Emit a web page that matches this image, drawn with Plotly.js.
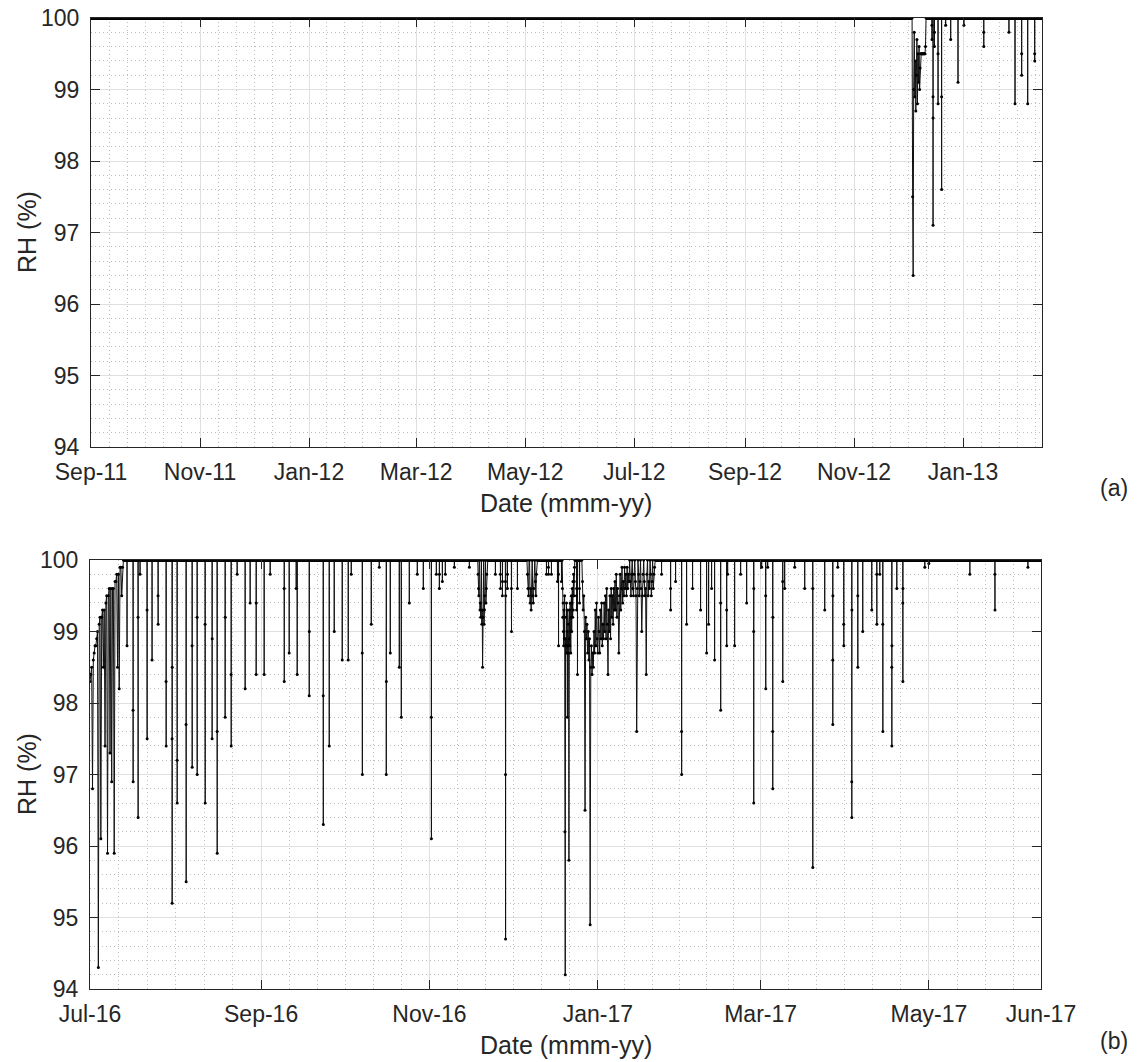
<!DOCTYPE html>
<html>
<head>
<meta charset="utf-8">
<script src="https://cdn.plot.ly/plotly-3.0.1.min.js"></script>
<style>html,body{margin:0;padding:0;background:#fff}#chart{width:1141px;height:1062px}</style>
</head>
<body>
<div id="chart"></div>
<script>
// ---------------- DATA ----------------
// Panel (a): days counted from startA
const startA = '2011-09-01';
const endDayA = 532.2;
const dipDayA = [470.6, 471.2, 472.0, 474.0, 476.0, 478.3, 481.1, 485.2, 488.5, 499.6, 513.7, 517.1, 520.8, 524.2, 528.1];
const dipValA = [[99.9,99.7],[98.9,97.1,98.6],[99.6,99.8],[99.5,98.8],[98.9,97.6],[99.9],[99.7],[99.1],[99.9],[99.8,99.6],[99.8],[98.8],[99.5,99.2],[98.8],[99.5,99.4]];
const clusterDayA = [459.8];
const clusterSpanA = [7.2];
const clusterValA = [[97.5,96.4,99.0,99.8,98.9,99.4,98.7,99.2,99.7,98.8,99.5,99.1,99.6,99.0,99.3,99.5,99.5,99.5,99.5,99.5,99.5,99.5,99.5,99.5,99.6]];
const tickDateA = ['2011-09-01','2011-11-01','2012-01-01','2012-03-01','2012-05-01','2012-07-01','2012-09-01','2012-11-01','2013-01-01'];
const tickTextA = ['Sep-11','Nov-11','Jan-12','Mar-12','May-12','Jul-12','Sep-12','Nov-12','Jan-13'];

// Panel (b): days counted from startB
const startB = '2016-07-01';
const endDayB = 344.6;
const dipDayB = [13.42,15.60,17.41,18.14,20.67,22.49,24.66,27.57,29.74,31.56,34.82,37.00,38.81,41.71,44.25,46.06,48.97,51.14,53.32,56.22,58.03,60.21,63.11,65.29,70.37,72.18,74.72,75.08,79.44,84.51,86.69,88.50,91.40,93.58,94.67,98.66,101.92,104.82,107.36,108.81,112.08,112.80,115.70,118.60,120.78,123.68,125.50,126.59,127.68,128.76,132.03,137.47,146.90,148.71,149.44,150.53,151.25,152.70,154.88,165.40,166.12,167.21,169.39,169.75,170.84,176.28,176.64,177.37,207.11,210.37,212.19,214.36,216.18,218.35,221.25,223.43,224.16,225.24,226.33,228.51,230.69,231.05,233.59,235.76,237.94,240.48,243.38,244.83,245.56,247.37,251.00,251.72,255.35,258.98,261.88,266.23,269.13,270.95,273.12,276.02,278.20,280.01,283.28,285.09,286.18,287.27,290.53,292.35,294.52,302.50,303.95,318.82,327.89,339.86];
const dipValB = [[98.8],[97.9,96.9],[99.2,96.4],[99.8],[99.3,97.5],[98.6],[99.5,99.1],[98.3,97.4],[97.5,95.2,98.5],[97.2,96.6],[97.7,95.5],[98.8,97.1],[99.2,97.0],[99.1,96.6],[97.5,98.9],[97.6,95.9],[97.8,99.2],[98.4,97.4],[99.8],[98.2],[99.4],[98.4,99.4],[98.4],[99.8],[99.6,98.3],[98.7],[99.6],[98.4],[98.1,99.0],[98.1,96.3],[97.4],[99.0],[98.6],[98.6],[99.8],[98.7,97.0],[99.1],[99.9],[97.0,98.3],[98.7],[98.5],[97.8],[99.4],[99.8],[99.6],[97.8,96.1],[99.8],[99.6,99.8],[99.7],[99.8],[99.9],[99.9],[99.8],[99.8,99.6],[99.5,99.7],[99.7,97.0,94.7,99.5],[99.6,99.8],[99.6,99.0],[99.6],[99.8],[99.9,99.8],[99.8],[99.7],[99.8,98.8],[99.7],[99.5,99.3,99.6],[98.4],[99.6,99.4],[99.8],[99.6,99.3],[99.7],[97.6,97.0],[99.1],[99.6],[99.3],[98.7],[99.1],[99.6],[98.6],[99.4,97.9],[99.3,98.8],[99.8],[98.8],[99.8],[99.4],[99.0,96.6,99.6],[99.9],[99.5,98.2],[99.9],[97.6,96.8,99.2],[99.7,98.3],[99.6],[99.9],[99.6],[99.6,95.7],[99.3],[98.6,97.7,99.5],[99.9],[99.1,98.8],[96.9,96.4,99.3],[99.5,98.5],[99.0],[99.3],[99.8,99.1],[99.8],[99.1,97.6],[98.5,97.4,98.8],[99.6],[99.4,98.3,99.6],[99.9],[99.95],[99.8],[99.8,99.3],[99.9]];
const clusterDayB = [0, 140.37, 158.14, 171.20, 178.46];
const clusterSpanB = [12.4, 3.63, 4.0, 4.35, 26.1];
const clusterValB = [
  [98.3,98.4,98.5,96.8,98.6,98.7,98.8,98.8,98.9,99.0,94.3,99.1,99.2,96.1,99.2,99.3,98.5,99.3,97.4,99.4,99.5,95.9,99.5,99.6,97.3,99.6,96.9,99.6,99.6,95.9,99.7,99.7,99.8,98.5,99.8,98.2,99.9,99.9,99.5,99.9,100,100],
  [100,100,99.8,99.6,99.5,100,100,99.3,99.4,99.2,100,100,99.1,99.3,98.5,99.2,100,100,99.1,99.3,99.5,100,100,99.4,99.6,99.8,100,100],
  [100,100,99.8,99.6,99.5,100,100,99.4,99.6,99.3,100,100,99.5,99.4,99.6,100,100,99.7,99.5,99.8,100,100],
  [99.6,99.2,99.4,99.0,98.8,99.3,98.9,99.5,96.2,94.2,98.9,99.2,98.8,99.4,98.7,99.0,97.8,99.3,98.8,99.1,98.7,95.8,98.9,99.3,98.8,99.4,99.0,98.7,99.2,99.5,99.0,99.4,99.6,99.2,99.7,99.3,99.8,99.5,99.7,99.9],
  [99.7,99.3,99.5,99.0,96.5,99.2,98.9,99.1,98.7,99.0,98.6,98.9,94.9,98.5,98.8,98.4,98.7,
   98.5,99.0,98.7,99.3,98.8,99.4,98.9,98.7,99.2,99.0,98.7,99.3,98.9,99.4,98.8,99.1,98.9,
   99.4,99.0,99.5,98.9,99.6,99.1,98.4,99.3,99.0,99.5,98.9,99.6,99.2,99.5,99.1,99.6,99.3,
   99.7,99.3,99.8,99.2,99.6,99.4,98.7,99.5,99.8,99.3,99.6,99.9,99.4,99.7,99.5,99.9,99.6,99.8,99.5,99.9,99.6,99.8,99.7,
   100,99.7,99.5,99.8,100,99.6,99.5,99.8,100,99.7,99.5,97.6,99.6,100,99.8,99.5,99.7,100,99.6,99.0,99.5,99.8,100,99.7,99.5,99.6,98.4,99.8,100,99.5,99.7,99.6,100,99.8,99.5,99.7,100,99.6,99.8,99.9]
];
const tickDateB = ['2016-07-01','2016-09-01','2016-11-01','2017-01-01','2017-03-01','2017-05-01'];
const tickTextB = ['Jul-16','Sep-16','Nov-16','Jan-17','Mar-17','May-17','Jun-17'];
const yTicks = [94, 95, 96, 97, 98, 99, 100];

// ---------------- BUILD ----------------
const DAY = 86400000;
function msOf(startStr, day) {
  const p = startStr.split('-').map(Number);
  return Date.UTC(p[0], p[1]-1, p[2]) + day*DAY;
}
function fmt(ms) { return new Date(ms).toISOString().replace('T',' ').replace('Z',''); }
function toDate(startStr, day) { return fmt(msOf(startStr, day)); }

function buildItems(dDays, dVals, cDays, cSpans, cVals, step) {
  const items = [];
  dDays.forEach((d,i) => items.push({d: d, step: step, vals: dVals[i]}));
  cDays.forEach((d,i) => items.push({d: d, step: cSpans[i]/(cVals[i].length-1), vals: cVals[i]}));
  items.sort((a,b) => a.d - b.d);
  return items;
}
function buildSeries(start, endDay, items) {
  const t = [], v = [];
  const add = (d,val) => { if (!t.length || d > t[t.length-1]) { t.push(d); v.push(val); } };
  if (items[0].d > 0) add(0, 100);
  items.forEach(it => {
    if (it.d > 0) add(it.d - it.step, 100);
    it.vals.forEach((val,k) => add(it.d + k*it.step, val));
    add(it.d + it.vals.length*it.step, 100);
  });
  add(endDay, 100);
  return { x: t.map(d => toDate(start, d)), y: v, y100: v.map(val => val >= 100 ? 100 : null) };
}
const serA = buildSeries(startA, endDayA, buildItems(dipDayA, dipValA, clusterDayA, clusterSpanA, clusterValA, 0.03));
const serB = buildSeries(startB, endDayB, buildItems(dipDayB, dipValB, clusterDayB, clusterSpanB, clusterValB, 0.03));

function minorVals(majors, endMs) {
  const ms = majors.map(s => new Date(s + 'T00:00:00Z').getTime());
  const out = [];
  for (let i = 0; i < ms.length-1; i++) {
    const step = (ms[i+1]-ms[i])/6;
    for (let k = 1; k < 6; k++) out.push(fmt(ms[i] + k*step));
  }
  const last = ms[ms.length-1];
  const step = (ms[ms.length-1]-ms[ms.length-2])/6;
  for (let m = last + step; m <= endMs + 1; m += step) out.push(fmt(m));
  return out;
}
const endMsA = msOf(startA, endDayA), endMsB = msOf(startB, endDayB);
const minorA = minorVals(tickDateA, endMsA);
const minorB = minorVals(tickDateB, endMsB);

const FONT = 'Liberation Sans, Arial, Helvetica, sans-serif';
const INK = '#262626';
const W = 1141, H = 1062;
const px = x => x / W, py = y => 1 - y / H;
const MINOR_GRID = {showgrid: true, gridcolor: '#bdbdbd', gridwidth: 1, griddash: '1px,3px', ticks: ''};

function common() {
  return {
    showline: true, linecolor: INK, linewidth: 1, mirror: 'ticks',
    ticks: 'inside', ticklen: 9, tickwidth: 1, tickcolor: INK,
    showgrid: true, gridcolor: '#e0e0e0', gridwidth: 1, zeroline: false,
    tickfont: {family: FONT, size: 23, color: INK}, automargin: false, fixedrange: true
  };
}
const xa = Object.assign(common(), {
  type: 'date', domain: [px(91), px(1042)], anchor: 'y',
  range: [toDate(startA, 0), fmt(endMsA)],
  tickmode: 'array', tickvals: tickDateA, ticktext: tickTextA, ticklabelstandoff: 4,
  minor: Object.assign({tickmode: 'array', tickvals: minorA}, MINOR_GRID)
});
const ya = Object.assign(common(), {
  domain: [py(447), py(18)], anchor: 'x', range: [94, 100],
  tickmode: 'array', tickvals: yTicks, ticktext: yTicks.map(String), ticklabelstandoff: 6,
  minor: Object.assign({tick0: 94, dtick: 0.2}, MINOR_GRID)
});
const xb = Object.assign(common(), {
  type: 'date', domain: [px(90), px(1041)], anchor: 'y2',
  range: [toDate(startB, 0), fmt(endMsB)],
  tickmode: 'array', tickvals: tickDateB.concat([fmt(endMsB)]), ticktext: tickTextB, ticklabelstandoff: 4,
  minor: Object.assign({tickmode: 'array', tickvals: minorB}, MINOR_GRID)
});
const yb = Object.assign(common(), {
  domain: [py(989), py(560)], anchor: 'x2', range: [94, 100],
  tickmode: 'array', tickvals: yTicks, ticktext: yTicks.map(String), ticklabelstandoff: 6,
  minor: Object.assign({tick0: 94, dtick: 0.2}, MINOR_GRID)
});

function traces(ser, xr, yr) {
  return [
    {x: ser.x, y: ser.y100, xaxis: xr, yaxis: yr, type: 'scatter', mode: 'lines',
     line: {color: '#000', width: 4}, connectgaps: false, hoverinfo: 'skip', showlegend: false},
    {x: ser.x, y: ser.y, xaxis: xr, yaxis: yr, type: 'scatter', mode: 'lines+markers',
     line: {color: '#111', width: 1}, marker: {size: 3, color: '#000'}, showlegend: false}
  ];
}
const data = traces(serA, 'x', 'y').concat(traces(serB, 'x2', 'y2'));

function ann(text, x, y, size, angle) {
  return {text: text, xref: 'paper', yref: 'paper', x: px(x), y: py(y), xanchor: 'center', yanchor: 'middle',
          showarrow: false, textangle: angle || 0, font: {family: FONT, size: size, color: INK}};
}
const layout = {
  width: W, height: H, margin: {l: 0, r: 0, t: 0, b: 0},
  paper_bgcolor: '#fff', plot_bgcolor: '#fff', showlegend: false,
  xaxis: xa, yaxis: ya, xaxis2: xb, yaxis2: yb,
  annotations: [
    ann('RH (%)', 27, 232, 25, -90),
    ann('RH (%)', 27, 774, 25, -90),
    ann('Date (mmm-yy)', 566, 503, 25),
    ann('Date (mmm-yy)', 566, 1045, 25),
    ann('(a)', 1114, 488, 23),
    ann('(b)', 1114, 1041, 23)
  ]
};
Plotly.newPlot('chart', data, layout, {staticPlot: true, displayModeBar: false});
</script>
</body>
</html>
